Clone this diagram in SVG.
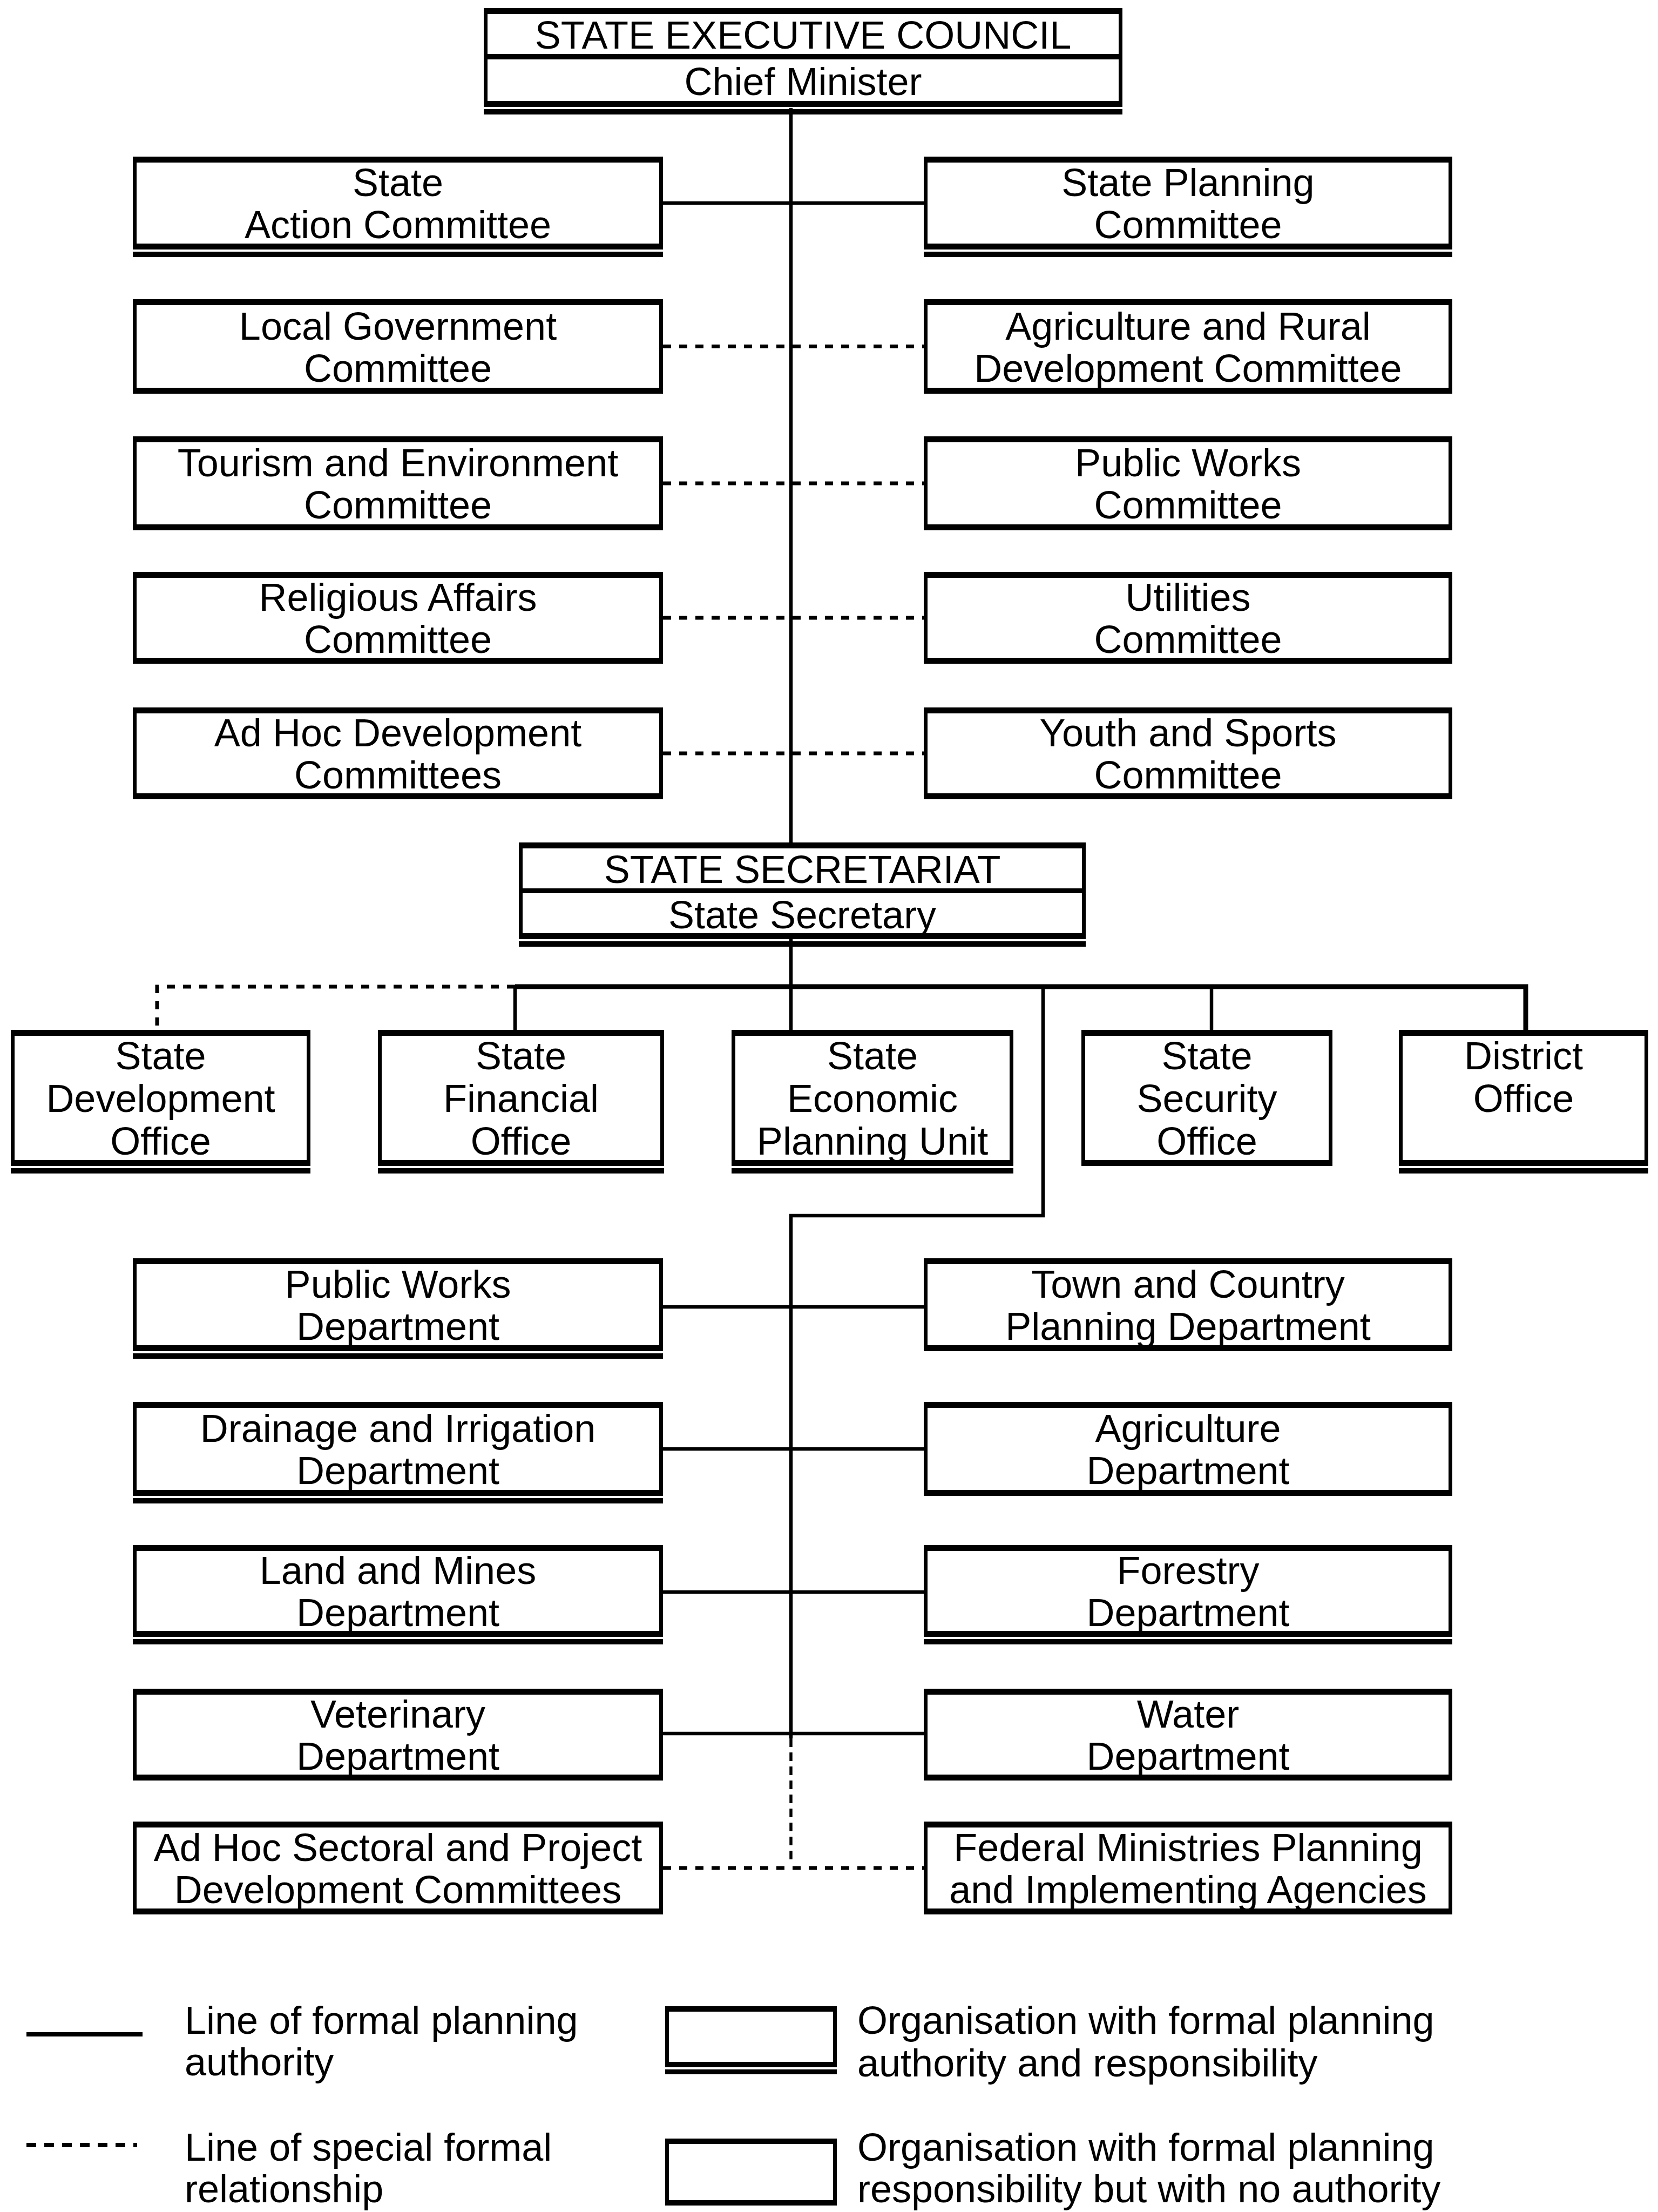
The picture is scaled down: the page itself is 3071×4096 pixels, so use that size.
<svg xmlns="http://www.w3.org/2000/svg" width="3071" height="4096" viewBox="0 0 3071 4096">
  <style>
    .frame { fill: #fff; stroke: #000; stroke-width: 7; }
    .bar { fill: #000; }
    .t { font-family: "Liberation Sans", Arial, Helvetica, sans-serif; font-size: 72px; fill: #000; text-anchor: middle; }
    .lt { font-family: "Liberation Sans", Arial, Helvetica, sans-serif; font-size: 72px; fill: #000; text-anchor: start; }
    .solid { fill: none; stroke: #000; stroke-width: 6.5; }
    .branch { fill: none; stroke: #000; stroke-width: 9; stroke-linejoin: miter; }
    .dotted { fill: none; stroke: #000; stroke-width: 7; stroke-dasharray: 15 15; }
    .dashed { fill: none; stroke: #000; stroke-width: 5.5; stroke-dasharray: 16 10; }
  </style>
  <rect width="3071" height="4096" fill="#fff"/>

  <!-- connectors -->
  <g id="connectors">
    <!-- main trunk from the Executive Council down to the Secretariat and SEPU -->
    <path class="solid" d="M1465,200 V1910"/>
    <!-- committee links -->
    <path class="solid" d="M1228,376 H1711"/>
    <path class="dotted" d="M1228,641.5 H1711"/>
    <path class="dotted" d="M1228,895 H1711"/>
    <path class="dotted" d="M1228,1144 H1711"/>
    <path class="dotted" d="M1228,1395 H1711"/>
    <!-- office branch -->
    <path class="branch" d="M954,1827 H2826 V1907"/>
    <path class="dotted" d="M954,1827 H291 V1907"/>
    <path class="solid" d="M954,1827 V1909"/>
    <path class="solid" d="M2244,1827 V1907"/>
    <!-- department branch -->
    <path class="solid" d="M1932,1827 V2251 H1465 V3219"/>
    <path class="dashed" d="M1465,3219 V3443"/>
    <!-- department links -->
    <path class="solid" d="M1228,2420 H1711"/>
    <path class="solid" d="M1228,2683 H1711"/>
    <path class="solid" d="M1228,2948 H1711"/>
    <path class="solid" d="M1228,3210 H1711"/>
    <path class="dotted" d="M1228,3459 H1711"/>
  </g>

  <!-- State Executive Council -->
  <g id="state-executive-council">
    <rect class="frame" x="899.5" y="18.5" width="1176" height="176"/>
    <rect class="bar" x="896" y="15" width="1183" height="11"/>
    <rect class="bar" x="896" y="100" width="1183" height="10"/>
    <rect class="bar" x="896" y="187" width="1183" height="11"/>
    <rect class="bar" x="896" y="202" width="1183" height="10"/>
    <text class="t" x="1487.5" y="90">STATE EXECUTIVE COUNCIL</text>
    <text class="t" x="1487.5" y="176">Chief Minister</text>
  </g>

  <!-- Committees, left column -->
  <g id="state-action-committee">
    <rect class="frame" x="249.5" y="293.5" width="975" height="165"/>
    <rect class="bar" x="246" y="290" width="982" height="11"/>
    <rect class="bar" x="246" y="451" width="982" height="11"/>
    <rect class="bar" x="246" y="466" width="982" height="10"/>
    <text class="t" x="737" y="363">State</text>
    <text class="t" x="737" y="441">Action Committee</text>
  </g>
  <g id="local-government-committee">
    <rect class="frame" x="249.5" y="557.5" width="975" height="168"/>
    <rect class="bar" x="246" y="554" width="982" height="11"/>
    <rect class="bar" x="246" y="718" width="982" height="11"/>
    <text class="t" x="737" y="628.5">Local Government</text>
    <text class="t" x="737" y="706.5">Committee</text>
  </g>
  <g id="tourism-environment-committee">
    <rect class="frame" x="249.5" y="811.5" width="975" height="167"/>
    <rect class="bar" x="246" y="808" width="982" height="11"/>
    <rect class="bar" x="246" y="971" width="982" height="11"/>
    <text class="t" x="737" y="882">Tourism and Environment</text>
    <text class="t" x="737" y="960">Committee</text>
  </g>
  <g id="religious-affairs-committee">
    <rect class="frame" x="249.5" y="1062.5" width="975" height="163"/>
    <rect class="bar" x="246" y="1059" width="982" height="11"/>
    <rect class="bar" x="246" y="1218" width="982" height="11"/>
    <text class="t" x="737" y="1131">Religious Affairs</text>
    <text class="t" x="737" y="1209">Committee</text>
  </g>
  <g id="ad-hoc-development-committees">
    <rect class="frame" x="249.5" y="1313.5" width="975" height="163"/>
    <rect class="bar" x="246" y="1310" width="982" height="11"/>
    <rect class="bar" x="246" y="1469" width="982" height="11"/>
    <text class="t" x="737" y="1382">Ad Hoc Development</text>
    <text class="t" x="737" y="1460">Committees</text>
  </g>

  <!-- Committees, right column -->
  <g id="state-planning-committee">
    <rect class="frame" x="1714.5" y="293.5" width="972" height="165"/>
    <rect class="bar" x="1711" y="290" width="979" height="11"/>
    <rect class="bar" x="1711" y="451" width="979" height="11"/>
    <rect class="bar" x="1711" y="466" width="979" height="10"/>
    <text class="t" x="2200.5" y="363">State Planning</text>
    <text class="t" x="2200.5" y="441">Committee</text>
  </g>
  <g id="agriculture-rural-development-committee">
    <rect class="frame" x="1714.5" y="557.5" width="972" height="168"/>
    <rect class="bar" x="1711" y="554" width="979" height="11"/>
    <rect class="bar" x="1711" y="718" width="979" height="11"/>
    <text class="t" x="2200.5" y="628.5">Agriculture and Rural</text>
    <text class="t" x="2200.5" y="706.5">Development Committee</text>
  </g>
  <g id="public-works-committee">
    <rect class="frame" x="1714.5" y="811.5" width="972" height="167"/>
    <rect class="bar" x="1711" y="808" width="979" height="11"/>
    <rect class="bar" x="1711" y="971" width="979" height="11"/>
    <text class="t" x="2200.5" y="882">Public Works</text>
    <text class="t" x="2200.5" y="960">Committee</text>
  </g>
  <g id="utilities-committee">
    <rect class="frame" x="1714.5" y="1062.5" width="972" height="163"/>
    <rect class="bar" x="1711" y="1059" width="979" height="11"/>
    <rect class="bar" x="1711" y="1218" width="979" height="11"/>
    <text class="t" x="2200.5" y="1131">Utilities</text>
    <text class="t" x="2200.5" y="1209">Committee</text>
  </g>
  <g id="youth-sports-committee">
    <rect class="frame" x="1714.5" y="1313.5" width="972" height="163"/>
    <rect class="bar" x="1711" y="1310" width="979" height="11"/>
    <rect class="bar" x="1711" y="1469" width="979" height="11"/>
    <text class="t" x="2200.5" y="1382">Youth and Sports</text>
    <text class="t" x="2200.5" y="1460">Committee</text>
  </g>

  <!-- State Secretariat -->
  <g id="state-secretariat">
    <rect class="frame" x="964.5" y="1563.5" width="1043" height="172"/>
    <rect class="bar" x="961" y="1560" width="1050" height="11"/>
    <rect class="bar" x="961" y="1645" width="1050" height="9"/>
    <rect class="bar" x="961" y="1728" width="1050" height="11"/>
    <rect class="bar" x="961" y="1743" width="1050" height="10"/>
    <text class="t" x="1486" y="1635">STATE SECRETARIAT</text>
    <text class="t" x="1486" y="1719">State Secretary</text>
  </g>

  <!-- Offices -->
  <g id="state-development-office">
    <rect class="frame" x="23.5" y="1910.5" width="548" height="245"/>
    <rect class="bar" x="20" y="1907" width="555" height="11"/>
    <rect class="bar" x="20" y="2148" width="555" height="11"/>
    <rect class="bar" x="20" y="2163" width="555" height="10"/>
    <text class="t" x="297.5" y="1980">State</text>
    <text class="t" x="297.5" y="2059">Development</text>
    <text class="t" x="297.5" y="2138">Office</text>
  </g>
  <g id="state-financial-office">
    <rect class="frame" x="703.5" y="1910.5" width="523" height="245"/>
    <rect class="bar" x="700" y="1907" width="530" height="11"/>
    <rect class="bar" x="700" y="2148" width="530" height="11"/>
    <rect class="bar" x="700" y="2163" width="530" height="10"/>
    <text class="t" x="965" y="1980">State</text>
    <text class="t" x="965" y="2059">Financial</text>
    <text class="t" x="965" y="2138">Office</text>
  </g>
  <g id="state-economic-planning-unit">
    <rect class="frame" x="1358.5" y="1910.5" width="515" height="245"/>
    <rect class="bar" x="1355" y="1907" width="522" height="11"/>
    <rect class="bar" x="1355" y="2148" width="522" height="11"/>
    <rect class="bar" x="1355" y="2163" width="522" height="10"/>
    <text class="t" x="1616" y="1980">State</text>
    <text class="t" x="1616" y="2059">Economic</text>
    <text class="t" x="1616" y="2138">Planning Unit</text>
  </g>
  <g id="state-security-office">
    <rect class="frame" x="2006.5" y="1910.5" width="458" height="245"/>
    <rect class="bar" x="2003" y="1907" width="465" height="11"/>
    <rect class="bar" x="2003" y="2148" width="465" height="11"/>
    <text class="t" x="2235.5" y="1980">State</text>
    <text class="t" x="2235.5" y="2059">Security</text>
    <text class="t" x="2235.5" y="2138">Office</text>
  </g>
  <g id="district-office">
    <rect class="frame" x="2594.5" y="1910.5" width="455" height="245"/>
    <rect class="bar" x="2591" y="1907" width="462" height="11"/>
    <rect class="bar" x="2591" y="2148" width="462" height="11"/>
    <rect class="bar" x="2591" y="2163" width="462" height="10"/>
    <text class="t" x="2822" y="1980">District</text>
    <text class="t" x="2822" y="2059">Office</text>
  </g>

  <!-- Departments, left column -->
  <g id="public-works-department">
    <rect class="frame" x="249.5" y="2333.5" width="975" height="165"/>
    <rect class="bar" x="246" y="2330" width="982" height="11"/>
    <rect class="bar" x="246" y="2491" width="982" height="11"/>
    <rect class="bar" x="246" y="2506" width="982" height="10"/>
    <text class="t" x="737" y="2403">Public Works</text>
    <text class="t" x="737" y="2481">Department</text>
  </g>
  <g id="drainage-irrigation-department">
    <rect class="frame" x="249.5" y="2599.5" width="975" height="167"/>
    <rect class="bar" x="246" y="2596" width="982" height="11"/>
    <rect class="bar" x="246" y="2759" width="982" height="11"/>
    <rect class="bar" x="246" y="2774" width="982" height="10"/>
    <text class="t" x="737" y="2670">Drainage and Irrigation</text>
    <text class="t" x="737" y="2748">Department</text>
  </g>
  <g id="land-mines-department">
    <rect class="frame" x="249.5" y="2864.5" width="975" height="163"/>
    <rect class="bar" x="246" y="2861" width="982" height="11"/>
    <rect class="bar" x="246" y="3020" width="982" height="11"/>
    <rect class="bar" x="246" y="3035" width="982" height="10"/>
    <text class="t" x="737" y="2933">Land and Mines</text>
    <text class="t" x="737" y="3011">Department</text>
  </g>
  <g id="veterinary-department">
    <rect class="frame" x="249.5" y="3130.5" width="975" height="163"/>
    <rect class="bar" x="246" y="3127" width="982" height="11"/>
    <rect class="bar" x="246" y="3286" width="982" height="11"/>
    <text class="t" x="737" y="3199">Veterinary</text>
    <text class="t" x="737" y="3277">Department</text>
  </g>
  <g id="ad-hoc-sectoral-committees">
    <rect class="frame" x="249.5" y="3376.5" width="975" height="165"/>
    <rect class="bar" x="246" y="3373" width="982" height="11"/>
    <rect class="bar" x="246" y="3534" width="982" height="11"/>
    <text class="t" x="737" y="3446">Ad Hoc Sectoral and Project</text>
    <text class="t" x="737" y="3524">Development Committees</text>
  </g>

  <!-- Departments, right column -->
  <g id="town-country-planning-department">
    <rect class="frame" x="1714.5" y="2333.5" width="972" height="165"/>
    <rect class="bar" x="1711" y="2330" width="979" height="11"/>
    <rect class="bar" x="1711" y="2491" width="979" height="11"/>
    <text class="t" x="2200.5" y="2403">Town and Country</text>
    <text class="t" x="2200.5" y="2481">Planning Department</text>
  </g>
  <g id="agriculture-department">
    <rect class="frame" x="1714.5" y="2599.5" width="972" height="167"/>
    <rect class="bar" x="1711" y="2596" width="979" height="11"/>
    <rect class="bar" x="1711" y="2759" width="979" height="11"/>
    <text class="t" x="2200.5" y="2670">Agriculture</text>
    <text class="t" x="2200.5" y="2748">Department</text>
  </g>
  <g id="forestry-department">
    <rect class="frame" x="1714.5" y="2864.5" width="972" height="163"/>
    <rect class="bar" x="1711" y="2861" width="979" height="11"/>
    <rect class="bar" x="1711" y="3020" width="979" height="11"/>
    <rect class="bar" x="1711" y="3035" width="979" height="10"/>
    <text class="t" x="2200.5" y="2933">Forestry</text>
    <text class="t" x="2200.5" y="3011">Department</text>
  </g>
  <g id="water-department">
    <rect class="frame" x="1714.5" y="3130.5" width="972" height="163"/>
    <rect class="bar" x="1711" y="3127" width="979" height="11"/>
    <rect class="bar" x="1711" y="3286" width="979" height="11"/>
    <text class="t" x="2200.5" y="3199">Water</text>
    <text class="t" x="2200.5" y="3277">Department</text>
  </g>
  <g id="federal-ministries-agencies">
    <rect class="frame" x="1714.5" y="3376.5" width="972" height="165"/>
    <rect class="bar" x="1711" y="3373" width="979" height="11"/>
    <rect class="bar" x="1711" y="3534" width="979" height="11"/>
    <text class="t" x="2200.5" y="3446">Federal Ministries Planning</text>
    <text class="t" x="2200.5" y="3524">and Implementing Agencies</text>
  </g>

  <!-- Key -->
  <g id="legend">
    <path d="M49,3767 H264" fill="none" stroke="#000" stroke-width="8"/>
    <text class="lt" x="342" y="3766">Line of formal planning</text>
    <text class="lt" x="342" y="3843">authority</text>

    <rect class="frame" x="1235.5" y="3718.5" width="311" height="106"/>
    <rect class="bar" x="1232" y="3715" width="318" height="10"/>
    <rect class="bar" x="1232" y="3818" width="318" height="10"/>
    <rect class="bar" x="1232" y="3832" width="318" height="9"/>
    <text class="lt" x="1588" y="3766">Organisation with formal planning</text>
    <text class="lt" x="1588" y="3845">authority and responsibility</text>

    <path d="M49,3972 H254" fill="none" stroke="#000" stroke-width="8" stroke-dasharray="18 15"/>
    <text class="lt" x="342" y="4001">Line of special formal</text>
    <text class="lt" x="342" y="4078">relationship</text>

    <rect class="frame" x="1235.5" y="3963.5" width="311" height="117"/>
    <rect class="bar" x="1232" y="3960" width="318" height="10"/>
    <rect class="bar" x="1232" y="4074" width="318" height="10"/>
    <text class="lt" x="1588" y="4001">Organisation with formal planning</text>
    <text class="lt" x="1588" y="4078">responsibility but with no authority</text>
  </g>
</svg>
